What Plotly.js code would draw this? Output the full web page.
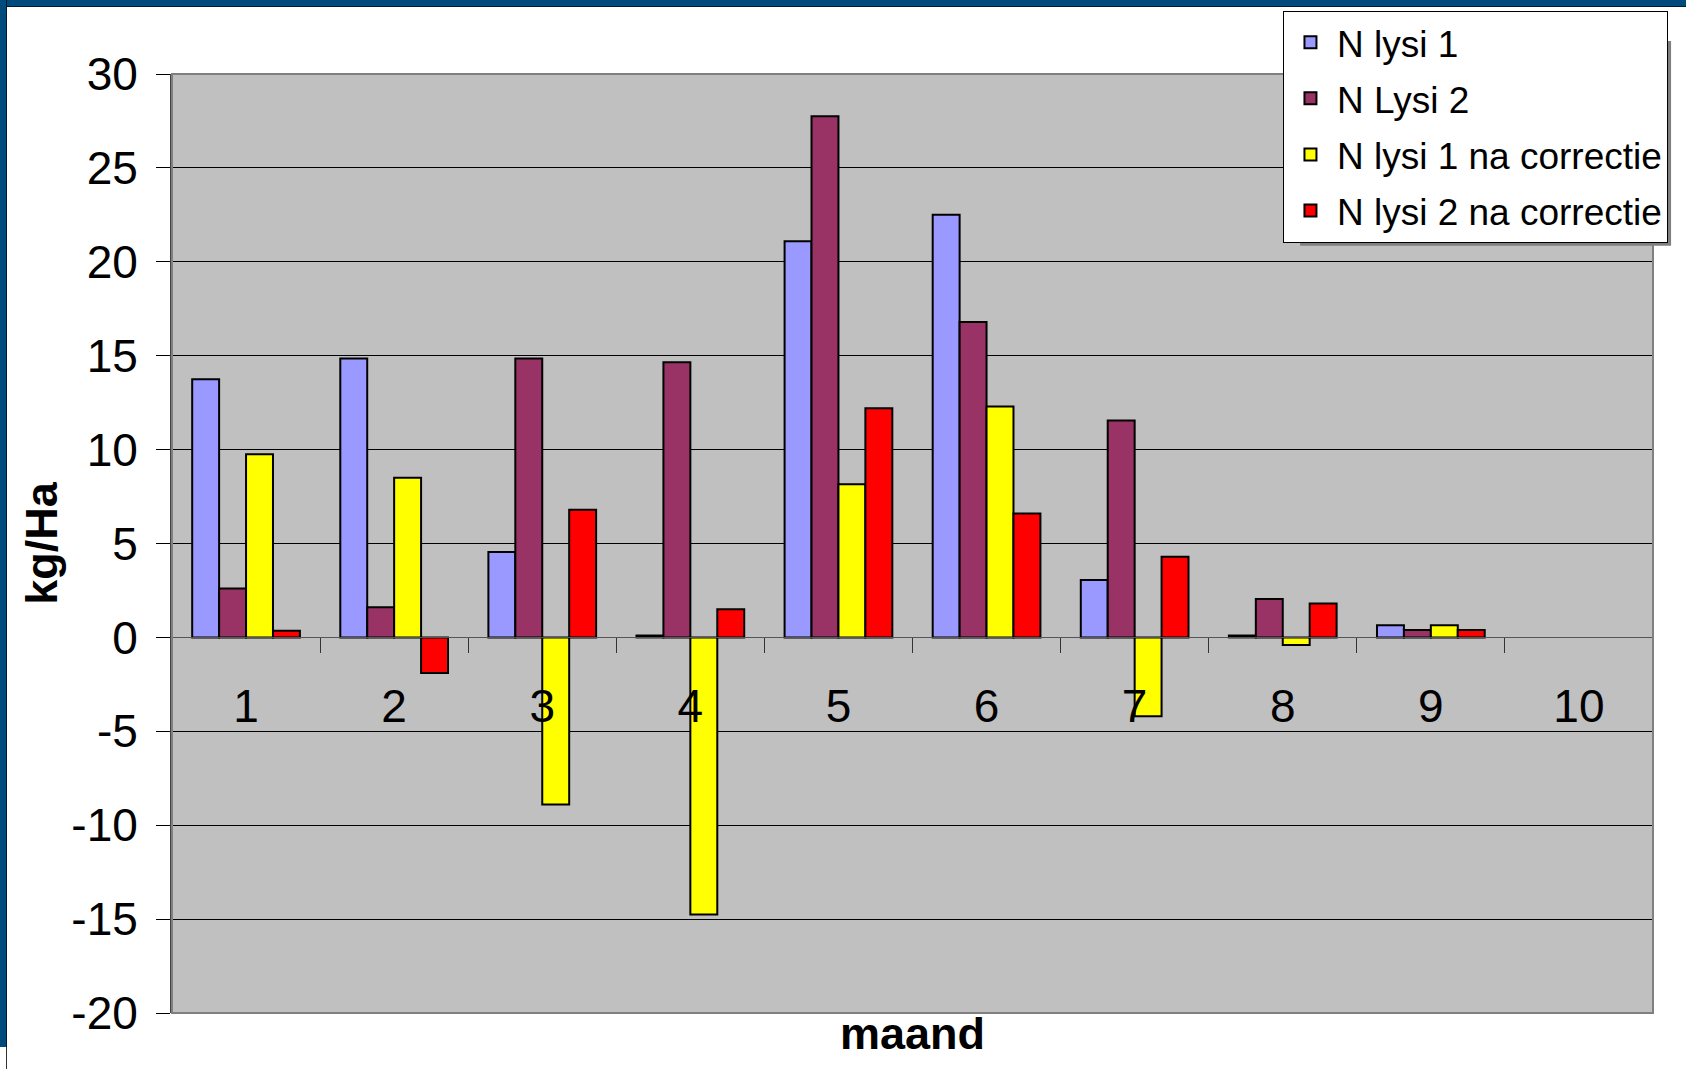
<!DOCTYPE html>
<html>
<head>
<meta charset="utf-8">
<script src="https://cdn.plot.ly/plotly-3.0.1.min.js"></script>
<style>
  html, body { margin: 0; padding: 0; background: #ffffff; }
  #wrap { position: relative; width: 1686px; height: 1069px; overflow: hidden; background: #ffffff; }
  #chart { position: absolute; left: 0; top: 0; width: 1686px; height: 1069px; }
  .frameTop { position: absolute; left: 0; top: 0; width: 1686px; height: 6px; background: #004a7c; border-bottom: 1px solid #001a30; z-index: 5; }
  .frameLeft { position: absolute; left: 0; top: 0; width: 6px; height: 1047px; background: #004a7c; border-right: 1px solid #001a30; z-index: 5; }
  .frameLeftLine { position: absolute; left: 6px; top: 1047px; width: 1px; height: 22px; background: #333333; z-index: 5; }
</style>
</head>
<body>
<div id="wrap">
  <div id="chart"></div>
  <div class="frameTop"></div>
  <div class="frameLeft"></div>
  <div class="frameLeftLine"></div>
</div>
<script>
// ---- data ----
const categories = ["1", "2", "3", "4", "5", "6", "7", "8", "9", "10"];
const nLysi1      = [13.75, 14.85, 4.55, 0.1, 21.1, 22.5, 3.05, 0.1, 0.65, null];
const nLysi2      = [2.6, 1.6, 14.85, 14.65, 27.75, 16.8, 11.55, 2.05, 0.4, null];
const nLysi1Corr  = [9.75, 8.5, -8.9, -14.75, 8.15, 12.3, -4.2, -0.4, 0.65, null];
const nLysi2Corr  = [0.35, -1.9, 6.8, 1.5, 12.2, 6.6, 4.3, 1.8, 0.4, null];
const seriesNames = ["N lysi 1", "N Lysi 2", "N lysi 1 na correctie", "N lysi 2 na correctie"];
const yTickVals = [-20, -15, -10, -5, 0, 5, 10, 15, 20, 25, 30];
const yTickText = ["-20", "-15", "-10", "-5", "0", "5", "10", "15", "20", "25", "30"];

const colors = ["#9999ff", "#993366", "#ffff00", "#ff0000"];
const values = [nLysi1, nLysi2, nLysi1Corr, nLysi2Corr];
const FONT = "Arial, 'Liberation Sans', sans-serif";

const traces = values.map((v, i) => ({
  type: "bar",
  name: seriesNames[i],
  x: categories,
  y: v,
  legendgroup: "g" + i,
  marker: { color: colors[i], line: { color: "#000000", width: 2 } },
  hoverinfo: "x+y+name"
}));

const layout = {
  width: 1686,
  height: 1069,
  margin: { l: 172, r: 33, t: 73, b: 56, pad: 0 },
  paper_bgcolor: "#ffffff",
  plot_bgcolor: "#c0c0c0",
  barmode: "group",
  bargap: 0.2727,
  bargroupgap: 0,
  font: { family: FONT, color: "#000000" },
  xaxis: {
    type: "category",
    range: [-0.5, 9.5],
    anchor: "free",
    position: 0.4,
    showgrid: false,
    zeroline: false,
    showline: true,
    linecolor: "#555555",
    linewidth: 1,
    ticks: "outside",
    tickson: "boundaries",
    ticklen: 15,
    tickwidth: 1,
    tickcolor: "#333333",
    ticklabelstandoff: 28,
    tickfont: { family: FONT, size: 46, color: "#000000" },
    fixedrange: true
  },
  yaxis: {
    range: [-20, 30],
    tickvals: yTickVals,
    ticktext: yTickText,
    showgrid: true,
    gridcolor: "#000000",
    gridwidth: 1,
    zeroline: false,
    showline: true,
    linecolor: "#444444",
    linewidth: 2,
    ticks: "outside",
    ticklen: 14,
    tickwidth: 1,
    tickcolor: "#000000",
    ticklabelstandoff: 9,
    tickfont: { family: FONT, size: 46, color: "#000000" },
    title: { text: "<b>kg/Ha</b>", font: { family: FONT, size: 45, color: "#000000" }, standoff: 0 },
    fixedrange: true
  },
  legend: {
    x: 1.0101,
    xanchor: "right",
    y: 1.0663,
    yanchor: "top",
    bgcolor: "#ffffff",
    bordercolor: "#000000",
    borderwidth: 1,
    tracegroupgap: 5,
    itemwidth: 43,
    font: { family: FONT, size: 37, color: "#000000" }
  },
  shapes: [
    { type: "rect", xref: "paper", yref: "paper", x0: 0, x1: 1, y0: 0, y1: 1,
      line: { color: "#808080", width: 2 }, fillcolor: "rgba(0,0,0,0)", layer: "above" },
    // legend drop shadow
    { type: "rect", xref: "paper", yref: "paper", x0: 0.7617, x1: 1.0122, y0: 0.8170, y1: 1.0351,
      line: { width: 0 }, fillcolor: "#808080", layer: "above" }
  ],
  annotations: [
    { text: "<b>maand</b>", xref: "paper", yref: "paper", x: 0.5, y: -0.0215,
      xanchor: "center", yanchor: "middle", showarrow: false,
      font: { family: FONT, size: 45, color: "#000000" } }
  ],
  showlegend: true
};

Plotly.newPlot("chart", traces, layout, { displayModeBar: false, staticPlot: true });
</script>
</body>
</html>
